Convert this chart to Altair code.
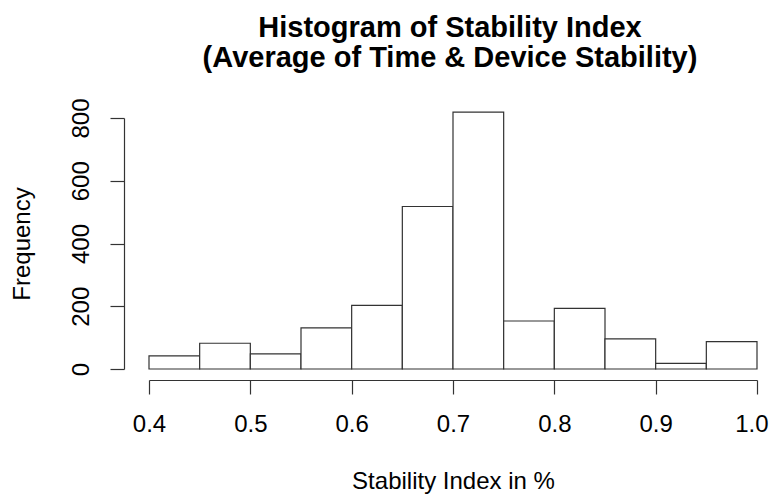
import altair as alt
import pandas as pd

bin_start = [0.40, 0.45, 0.50, 0.55, 0.60, 0.65, 0.70, 0.75, 0.80, 0.85, 0.90, 0.95]
bin_end = [0.45, 0.50, 0.55, 0.60, 0.65, 0.70, 0.75, 0.80, 0.85, 0.90, 0.95, 1.00]
counts = [42, 82, 48, 131, 203, 518, 819, 153, 193, 96, 18, 87]
x_ticks = [0.4, 0.5, 0.6, 0.7, 0.8, 0.9, 1.0]
y_ticks = [0, 200, 400, 600, 800]

df = pd.DataFrame({"start": bin_start, "end": bin_end, "count": counts})

FONT = "Liberation Sans"

chart = alt.Chart(df).mark_rect(
    fill="white", stroke="#333333", strokeWidth=1.2
).encode(
    x=alt.X("start:Q", scale=alt.Scale(domain=[0.4, 1.0], nice=False, zero=False),
            axis=alt.Axis(values=x_ticks, format=".1f",
                          offset=11, tickSize=14, labelPadding=18, titlePadding=33,
                          labelAlign=alt.expr("datum.value >= 0.99 ? 'right' : 'center'"),
                          labelOffset=alt.expr("datum.value >= 0.99 ? 11 : 0"),
                          grid=False, labelFontSize=24, titleFontSize=24,
                          labelFont=FONT, titleFont=FONT, labelColor="black",
                          titleColor="black", titleFontWeight="normal",
                          domainColor="#333333", tickColor="#333333",
                          domainWidth=1.2, tickWidth=1.2, labelFlush=False),
            title="Stability Index in %"),
    x2="end:Q",
    y=alt.Y("count:Q", scale=alt.Scale(domain=[0, 800], nice=False),
            axis=alt.Axis(values=y_ticks, offset=25, tickSize=14,
                          labelAngle=270, labelAlign="center", labelBaseline="bottom",
                          labelPadding=17, titlePadding=35, grid=False,
                          labelFontSize=24, titleFontSize=24, labelFont=FONT,
                          titleFont=FONT, labelColor="black", titleColor="black",
                          titleFontWeight="normal", domainColor="#333333",
                          tickColor="#333333", domainWidth=1.2, tickWidth=1.2,
                          labelFlush=False),
            title="Frequency"),
    y2=alt.Y2(datum=0),
).properties(
    width=608,
    height=251,
    padding={"left": 141, "top": 110, "right": 12, "bottom": 128},
    autosize=alt.AutoSizeParams(type="none"),
    title=alt.Title(["Histogram of Stability Index", "(Average of Time & Device Stability)"],
                    font=FONT, fontSize=29, fontWeight="bold", color="black",
                    anchor="middle", offset=25, lineHeight=30, dx=-3),
).configure_view(stroke=None)

chart.save("out.html", embed_options={"renderer": "svg", "actions": False})
